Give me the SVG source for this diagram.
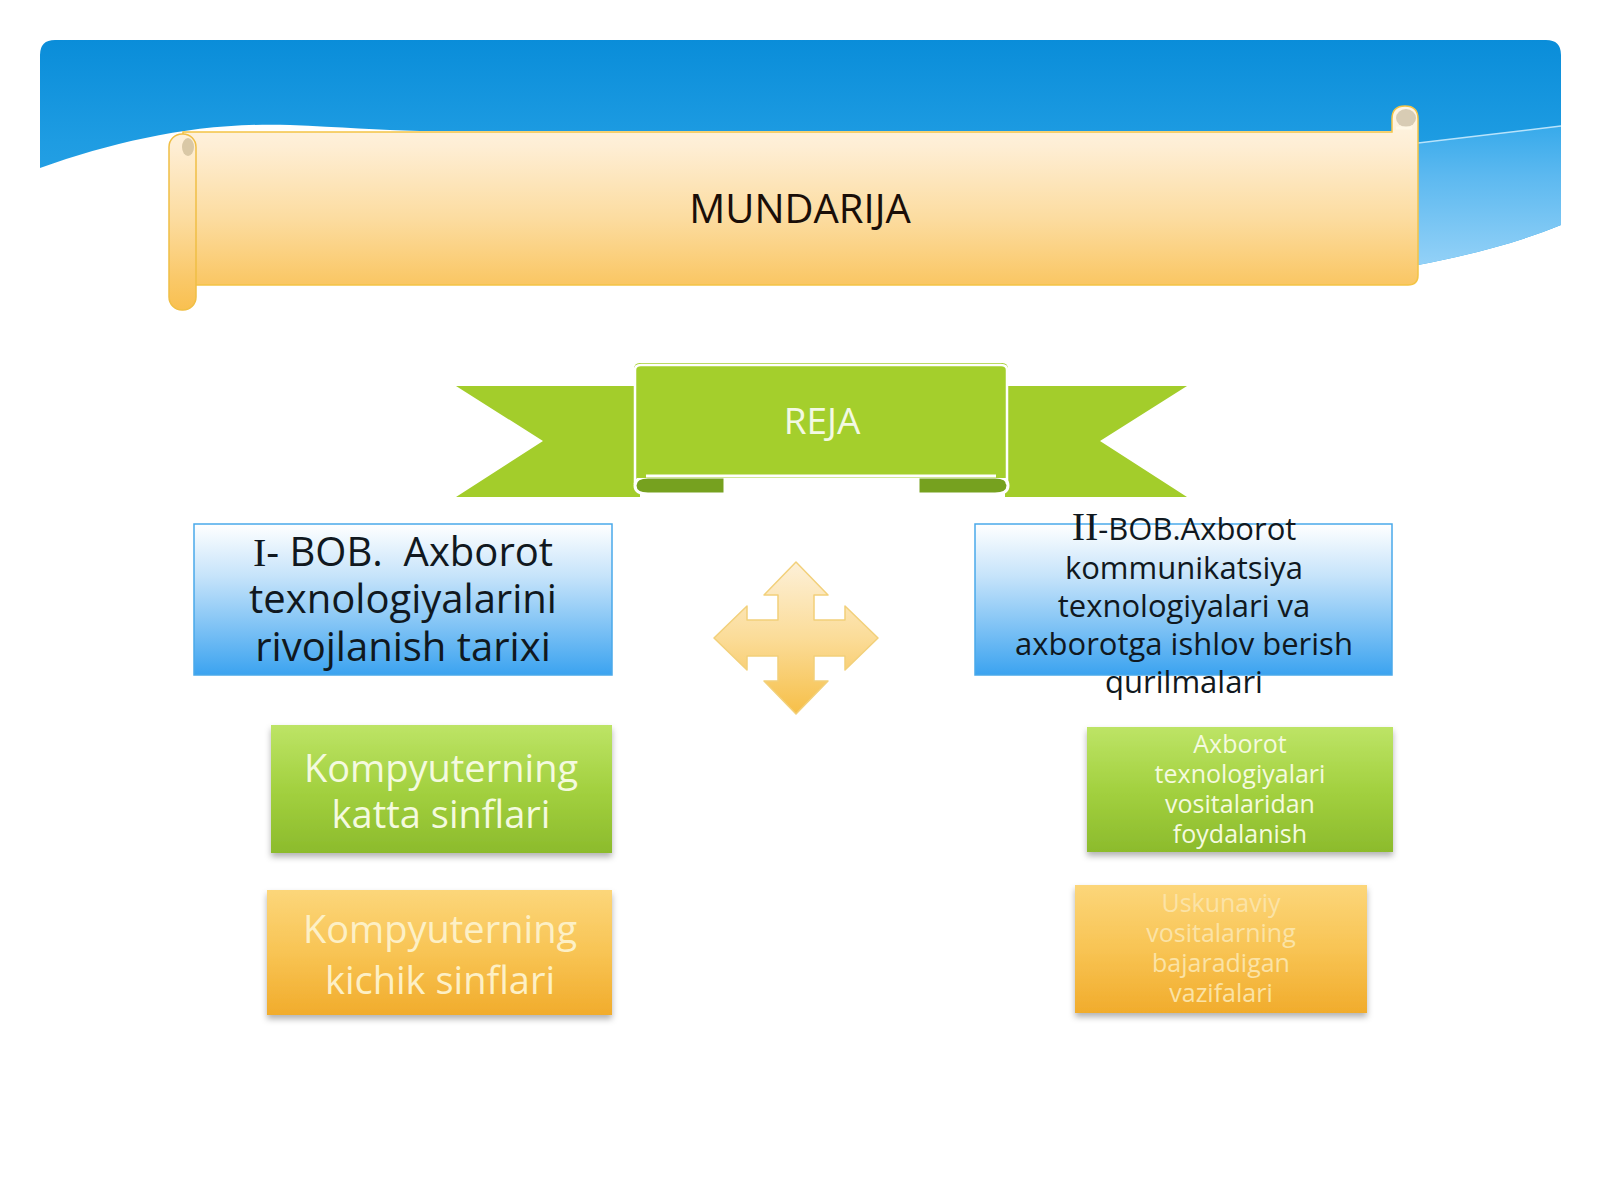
<svg xmlns="http://www.w3.org/2000/svg" width="1600" height="1200" viewBox="0 0 1600 1200">
<defs>
  <linearGradient id="gBand" x1="0" y1="40" x2="0" y2="265" gradientUnits="userSpaceOnUse">
    <stop offset="0" stop-color="#0a8dd9"/>
    <stop offset="0.45" stop-color="#1e9ce2"/>
    <stop offset="1" stop-color="#34a8e9"/>
  </linearGradient>
  <linearGradient id="gBandLow" x1="0" y1="130" x2="0" y2="265" gradientUnits="userSpaceOnUse">
    <stop offset="0" stop-color="#3aabeb"/>
    <stop offset="0.35" stop-color="#5db9f0"/>
    <stop offset="1" stop-color="#93d1f7"/>
  </linearGradient>
  <linearGradient id="gScroll" x1="0" y1="106" x2="0" y2="310" gradientUnits="userSpaceOnUse">
    <stop offset="0" stop-color="#fef6e8"/>
    <stop offset="0.2" stop-color="#feeed4"/>
    <stop offset="0.55" stop-color="#fcdca0"/>
    <stop offset="0.85" stop-color="#fac868"/>
    <stop offset="1" stop-color="#f9c050"/>
  </linearGradient>
  <linearGradient id="gBlue" x1="0" y1="0" x2="0" y2="1">
    <stop offset="0" stop-color="#ffffff"/>
    <stop offset="0.35" stop-color="#c5e3fa"/>
    <stop offset="1" stop-color="#3ba3f0"/>
  </linearGradient>
  <linearGradient id="gGreen" x1="0" y1="0" x2="0" y2="1">
    <stop offset="0" stop-color="#bde466"/>
    <stop offset="0.5" stop-color="#a3d140"/>
    <stop offset="1" stop-color="#8cbb2c"/>
  </linearGradient>
  <linearGradient id="gOrange" x1="0" y1="0" x2="0" y2="1">
    <stop offset="0" stop-color="#fcd67a"/>
    <stop offset="0.5" stop-color="#f8c454"/>
    <stop offset="1" stop-color="#f1ac2c"/>
  </linearGradient>
  <linearGradient id="gCross" x1="0" y1="0" x2="0" y2="1">
    <stop offset="0" stop-color="#fdf0d8"/>
    <stop offset="0.5" stop-color="#fbdc98"/>
    <stop offset="1" stop-color="#f6bf48"/>
  </linearGradient>
  <filter id="sh" x="-10%" y="-10%" width="120%" height="130%">
    <feDropShadow dx="0" dy="4" stdDeviation="3" flood-color="#000" flood-opacity="0.3"/>
  </filter>
</defs>
<style>
  .sans{font-family:"Open Sans","Noto Sans","DejaVu Sans",sans-serif}
  .serif{font-family:"Liberation Serif","DejaVu Serif",serif}
  .dark{fill:#101820}
  .pale{fill:#f4fadf}
  .paleo{fill:#fdf0c6}
  .blueBox{fill:url(#gBlue);stroke:#4aa9ea;stroke-width:1.5}
  .greenBox{fill:url(#gGreen);filter:url(#sh)}
  .orangeBox{fill:url(#gOrange);filter:url(#sh)}
  .rib{fill:#a3cd2b}
  .fold{fill:#76a11f;stroke:#ffffff;stroke-width:3}
</style>
<rect width="1600" height="1200" fill="#ffffff"/>

<g id="header-band">
  <path d="M40,168 C120,140 200,122 290,125 C340,127 380,130 420,131 L1418,131 L1418,265 C1470,255 1520,242 1561,225 L1561,55 Q1561,40 1546,40 L55,40 Q40,40 40,55 Z" fill="url(#gBand)"/>
  <path d="M1418,143 L1561,126 L1561,225 C1520,242 1470,255 1418,265 Z" fill="url(#gBandLow)"/>
  <path d="M1418,143 L1561,126" stroke="#b8e3fb" stroke-width="1.5" fill="none"/>
</g>

<g id="title-scroll">
  <path d="M183,132 L1392,132 L1392,119 Q1392,106 1405,106 Q1418,106 1418,119 L1418,275 Q1418,285 1408,285 L183,285 Z" fill="url(#gScroll)" stroke="#f3c446" stroke-width="1.5"/>
  <rect x="169" y="134" width="27" height="176" rx="13" fill="url(#gScroll)" stroke="#f0bf45" stroke-width="1.5"/>
  <ellipse cx="188" cy="147" rx="6" ry="9" fill="#d9c8a6"/>
  <ellipse cx="1406" cy="118" rx="10" ry="9" fill="#d8ccb4"/>
  <path d="M1396,128 L1412,128" stroke="#fff8e6" stroke-width="3"/>
  <text x="800" y="223" class="sans" font-size="40" fill="#1a0e08" text-anchor="middle">MUNDARIJA</text>
</g>

<g id="reja-ribbon">
  <polygon class="rib" points="456,386 640,386 640,497 456,497 543,441"/>
  <polygon class="rib" points="1005,386 1187,386 1100,441 1187,497 1005,497"/>
  <path class="fold" d="M725,477 L648,477 Q635,477 635,485.5 Q635,494 648,494 L725,494 Z"/>
  <path class="fold" d="M918,477 L995,477 Q1008,477 1008,485.5 Q1008,494 995,494 L918,494 Z"/>
  <path d="M634,478 L634,369 Q634,363 640,363 L1002,363 Q1008,363 1008,369 L1008,478 Z" fill="#a4cf2c"/>
  <path d="M635,484 L635,370 Q635,365 641,365 L1001,365 Q1007,365 1007,370 L1007,484" fill="none" stroke="#ffffff" stroke-width="2.5"/>
  <path d="M646,476 L996,476" stroke="#ffffff" stroke-width="3"/>
  <text x="822" y="434" class="sans" font-size="37" fill="#f3f9e3" text-anchor="middle">REJA</text>
</g>

<g id="chapter1">
  <rect class="blueBox" x="194" y="524" width="418" height="151"/>
  <text class="sans dark" font-size="40" text-anchor="middle" xml:space="preserve"><tspan x="403" y="566"><tspan class="serif">I</tspan>- BOB.  Axborot</tspan><tspan x="403" y="613">texnologiyalarini</tspan><tspan x="403" y="661">rivojlanish tarixi</tspan></text>
</g>

<g id="chapter2">
  <rect class="blueBox" x="975" y="524" width="417" height="151"/>
  <text class="sans dark" font-size="31" text-anchor="middle"><tspan x="1184" y="540"><tspan class="serif" font-size="40">II</tspan>-BOB.Axborot</tspan><tspan x="1184" y="579">kommunikatsiya</tspan><tspan x="1184" y="617">texnologiyalari va</tspan><tspan x="1184" y="655">axborotga ishlov berish</tspan><tspan x="1184" y="693">qurilmalari</tspan></text>
</g>

<g id="cross-arrow">
  <polygon points="796,562 828,595 814,595 814,620 845,620 845,606 878,638 845,670 845,656 814,656 814,681 828,681 796,714 764,681 778,681 778,656 747,656 747,670 714,638 747,606 747,620 778,620 778,595 764,595" fill="url(#gCross)" stroke="#f2d07a" stroke-width="1.5" stroke-linejoin="round"/>
</g>

<g id="item-katta">
  <rect class="greenBox" x="271" y="725" width="341" height="128"/>
  <text class="sans pale" font-size="38" text-anchor="middle"><tspan x="441" y="782">Kompyuterning</tspan><tspan x="441" y="828">katta sinflari</tspan></text>
</g>

<g id="item-kichik">
  <rect class="orangeBox" x="267" y="890" width="345" height="125"/>
  <text class="sans paleo" font-size="38" text-anchor="middle"><tspan x="440" y="943">Kompyuterning</tspan><tspan x="440" y="994">kichik sinflari</tspan></text>
</g>

<g id="item-axborot">
  <rect class="greenBox" x="1087" y="727" width="306" height="125"/>
  <text class="sans pale" font-size="25" text-anchor="middle"><tspan x="1240" y="753">Axborot</tspan><tspan x="1240" y="783">texnologiyalari</tspan><tspan x="1240" y="813">vositalaridan</tspan><tspan x="1240" y="843">foydalanish</tspan></text>
</g>

<g id="item-uskunaviy">
  <rect class="orangeBox" x="1075" y="885" width="292" height="128"/>
  <text class="sans" fill="#fbe3a6" font-size="25" text-anchor="middle"><tspan x="1221" y="912">Uskunaviy</tspan><tspan x="1221" y="942">vositalarning</tspan><tspan x="1221" y="972">bajaradigan</tspan><tspan x="1221" y="1002">vazifalari</tspan></text>
</g>

<g id="connectors"></g>
</svg>
